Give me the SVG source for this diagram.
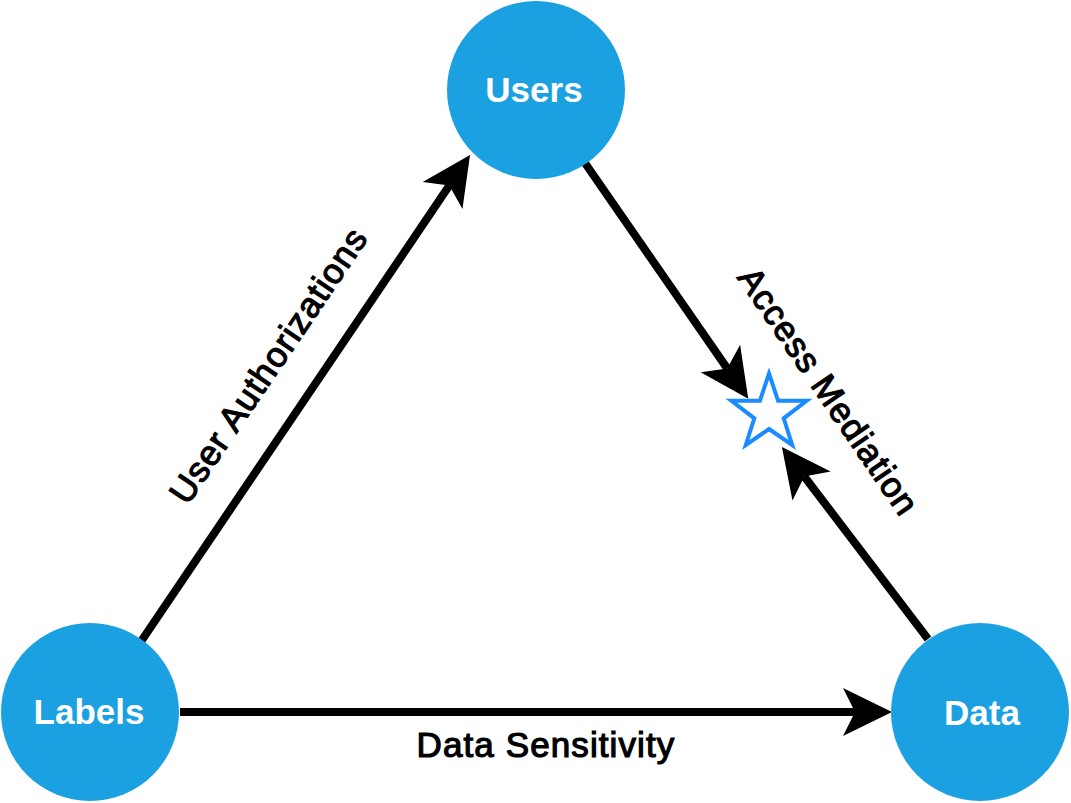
<svg xmlns="http://www.w3.org/2000/svg" width="1071" height="803" viewBox="0 0 1071 803">
<style>
.node{fill:#1ba1e2;}
.nlabel{font-family:"Liberation Sans",Arial,sans-serif;font-size:35px;font-weight:bold;fill:#ffffff;text-anchor:middle;}
.elabel{font-family:"Liberation Sans",Arial,sans-serif;font-size:35px;fill:#000000;stroke:#000000;stroke-width:1.2;text-anchor:middle;letter-spacing:1.1px;}
.edge{stroke:#000000;stroke-width:8;fill:none;marker-end:url(#arrow);}
</style>
<defs>
<marker id="arrow" markerUnits="userSpaceOnUse" viewBox="-15 -27 56 54" markerWidth="56" markerHeight="54" refX="0" refY="0" orient="auto" overflow="visible">
<path d="M37,0 L-12,-24 L0,0 L-12,24 Z" fill="#000000"/>
</marker>
</defs>
<rect width="1071" height="803" fill="#ffffff"/>
<g id="connectors">
<line class="edge" x1="180" y1="712" x2="855" y2="712"/>
<line class="edge" x1="140" y1="643" x2="449.3" y2="185.6"/>
<line class="edge" x1="585" y1="163" x2="727.2" y2="368.4"/>
<line class="edge" x1="928" y1="639" x2="804.3" y2="476.5"/>
</g>
<g id="edge-labels">
<text class="elabel" transform="translate(268,365) rotate(-55.9)" dominant-baseline="central">User Authorizations</text>
<text class="elabel" transform="translate(829,391) rotate(55.7)" dominant-baseline="central">Access Mediation</text>
<text class="elabel" x="546" y="757">Data Sensitivity</text>
</g>
<g id="star">
<polygon points="769,373.5 778.1,400.8 806.6,400.8 783.7,418.3 792.2,445 769,429 745.8,445 754.3,418.3 731.4,400.8 759.9,400.8" fill="#ffffff" stroke="#1a8cff" stroke-width="4" stroke-linejoin="miter"/>
</g>
<g id="node-users">
<circle class="node" cx="536" cy="90" r="89"/>
<text class="nlabel" x="534" y="102">Users</text>
</g>
<g id="node-labels">
<circle class="node" cx="90" cy="712" r="89"/>
<text class="nlabel" x="89" y="724">Labels</text>
</g>
<g id="node-data">
<circle class="node" cx="980" cy="712" r="89"/>
<text class="nlabel" x="982" y="725">Data</text>
</g>
</svg>
